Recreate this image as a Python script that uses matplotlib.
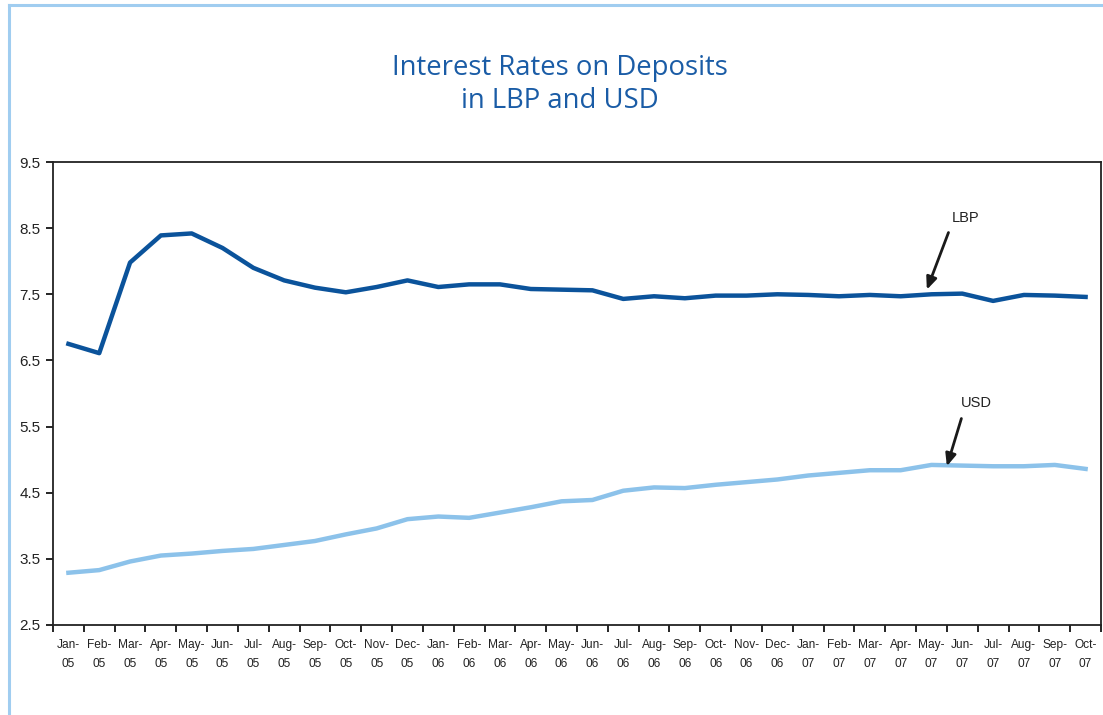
import matplotlib
matplotlib.use("Agg")
import matplotlib.pyplot as plt
from matplotlib.lines import Line2D

months = ["Jan", "Feb", "Mar", "Apr", "May", "Jun", "Jul", "Aug", "Sep", "Oct", "Nov", "Dec"]
years = ["05", "06", "07"]
labels = [f"{m}-\n{y}" for y in years for m in months][:34]

lbp = [6.75, 6.61, 7.98, 8.39, 8.42, 8.20, 7.90, 7.71, 7.60, 7.53, 7.61, 7.71,
       7.61, 7.65, 7.65, 7.58, 7.57, 7.56, 7.43, 7.47, 7.44, 7.48, 7.48, 7.50,
       7.49, 7.47, 7.49, 7.47, 7.50, 7.51, 7.40, 7.49, 7.48, 7.46]
usd = [3.29, 3.33, 3.46, 3.55, 3.58, 3.62, 3.65, 3.71, 3.77, 3.87, 3.96, 4.10,
       4.14, 4.12, 4.20, 4.28, 4.37, 4.39, 4.53, 4.58, 4.57, 4.62, 4.66, 4.70,
       4.76, 4.80, 4.84, 4.84, 4.92, 4.91, 4.90, 4.90, 4.92, 4.86]
yticks = [2.5, 3.5, 4.5, 5.5, 6.5, 7.5, 8.5, 9.5]

DARK = "#0b539b"
LIGHT = "#8cc2ea"
FRAME = "#a0cdf0"
TITLE = "#1a5ca6"

plt.rcParams["font.family"] = ["Liberation Sans", "DejaVu Sans"]

fig = plt.figure(figsize=(11.03, 7.15), dpi=100)

# page frame lines (top and left)
fig.add_artist(Line2D([9 / 1103, 1.0], [1 - 5 / 715, 1 - 5 / 715], color=FRAME, lw=2.2,
                      transform=fig.transFigure))
fig.add_artist(Line2D([9 / 1103, 9 / 1103], [0, 1 - 5 / 715], color=FRAME, lw=2.2,
                      transform=fig.transFigure))

fig.text(560 / 1103, 1 - 68 / 715, "Interest Rates on Deposits", ha="center", va="center",
         color=TITLE, fontsize=19.8, family=["Open Sans", "DejaVu Sans"])
fig.text(560 / 1103, 1 - 101 / 715, "in LBP and USD", ha="center", va="center",
         color=TITLE, fontsize=19.8, family=["Open Sans", "DejaVu Sans"])

ax = fig.add_axes([53 / 1103, 90 / 715, 1048 / 1103, 463 / 715])
x = list(range(len(labels)))
ax.plot(x, usd, color=LIGHT, lw=3.2, solid_joinstyle="round")
ax.plot(x, lbp, color=DARK, lw=3.2, solid_joinstyle="round")

ax.set_xlim(-0.5, len(labels) - 0.5)
ax.set_ylim(2.5, 9.5)
ax.set_yticks(yticks)
ax.set_yticklabels([f"{v:.1f}" for v in yticks], fontsize=11, color="#222222")

ax.set_xticks([i - 0.5 for i in range(len(labels) + 1)])
ax.set_xticklabels([])
ax.set_xticks(x, minor=True)
ax.set_xticklabels(labels, minor=True, fontsize=8.6, color="#222222", linespacing=1.75)
ax.tick_params(axis="x", which="major", length=5, width=1.2, direction="out")
ax.tick_params(axis="x", which="minor", length=0, pad=10)
ax.tick_params(axis="y", length=5, width=1.2, direction="out", pad=4)

for s in ax.spines.values():
    s.set_linewidth(1.3)
    s.set_color("#222222")

ax.annotate("LBP", xy=(27.85, 7.57), xytext=(28.65, 8.66), fontsize=10.5, color="#222222",
            ha="left", va="center",
            arrowprops=dict(arrowstyle="-|>,head_length=0.7,head_width=0.3", color="#1a1a1a",
                            lw=2.0, shrinkA=4, shrinkB=0,
                            relpos=(0.0, 0.0)))
ax.annotate("USD", xy=(28.5, 4.90), xytext=(28.95, 5.85), fontsize=10.5, color="#222222",
            ha="left", va="center",
            arrowprops=dict(arrowstyle="-|>,head_length=0.7,head_width=0.3", color="#1a1a1a",
                            lw=2.0, shrinkA=4, shrinkB=0,
                            relpos=(0.1, 0.0)))

fig.savefig("out.png", dpi=100)
